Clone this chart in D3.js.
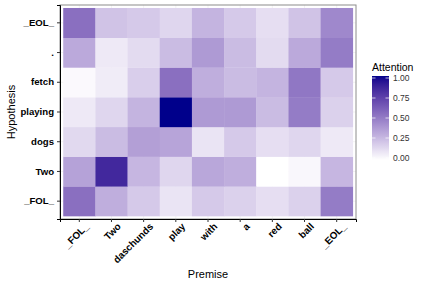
<!DOCTYPE html>
<html>
<head>
<meta charset="utf-8">
<script src="https://cdn.jsdelivr.net/npm/d3@7"></script>
<style>
  body { margin: 0; background: #fff; }
  text { font-family: "Liberation Sans", Arial, sans-serif; }
</style>
</head>
<body>
<svg id="heat" width="427" height="285"></svg>
<script>
// premise words (x) and hypothesis words (y, bottom to top)
var premise = ["_FOL_", "Two", "daschunds", "play", "with", "a", "red", "ball", "_EOL_"]
var hypothesis = ["_FOL_", "Two", "dogs", "playing", "fetch", ".", "_EOL_"]

// attention values, one array per hypothesis word, in premise order
var attEOL     = [0.55, 0.22, 0.20, 0.15, 0.28, 0.20, 0.12, 0.22, 0.45]
var attDot     = [0.32, 0.08, 0.13, 0.25, 0.38, 0.25, 0.13, 0.32, 0.50]
var attFetch   = [0.02, 0.07, 0.18, 0.55, 0.30, 0.25, 0.28, 0.52, 0.20]
var attPlaying = [0.08, 0.15, 0.28, 1.00, 0.38, 0.38, 0.25, 0.50, 0.17]
var attDogs    = [0.14, 0.25, 0.36, 0.34, 0.10, 0.20, 0.12, 0.15, 0.08]
var attTwo     = [0.35, 0.85, 0.27, 0.15, 0.33, 0.30, 0.00, 0.03, 0.27]
var attFOL     = [0.55, 0.30, 0.20, 0.10, 0.20, 0.17, 0.12, 0.17, 0.50]

var legendTicks = [0, 0.25, 0.5, 0.75, 1]

var rows = {
  "_EOL_": attEOL, ".": attDot, "fetch": attFetch, "playing": attPlaying,
  "dogs": attDogs, "Two": attTwo, "_FOL_": attFOL
}
var cells = []
hypothesis.forEach(function(h) {
  rows[h].forEach(function(v, i) {
    cells.push({ x: premise[i], y: h, value: v })
  })
})

var panel = { left: 60, right: 356, top: 5, bottom: 219 }
var svg = d3.select("#heat")

// discrete scales with ggplot style padding
var x = d3.scaleBand()
  .domain(premise)
  .range([panel.left, panel.right])
  .paddingOuter(0.1)
var y = d3.scaleBand()
  .domain(hypothesis)
  .range([panel.bottom, panel.top])
  .paddingOuter(0.1)

var color = d3.scaleLinear()
  .domain([0, 1])
  .range(["white", "darkblue"])
  .interpolate(d3.interpolateLab)

// grid lines
svg.append("g").selectAll("line.gx")
  .data(premise)
  .join("line")
  .attr("x1", d => x(d) + x.bandwidth() / 2)
  .attr("x2", d => x(d) + x.bandwidth() / 2)
  .attr("y1", panel.top)
  .attr("y2", panel.bottom)
  .attr("stroke", "#ebebeb")
  .attr("stroke-width", 0.6)
svg.append("g").selectAll("line.gy")
  .data(hypothesis)
  .join("line")
  .attr("y1", d => y(d) + y.bandwidth() / 2)
  .attr("y2", d => y(d) + y.bandwidth() / 2)
  .attr("x1", panel.left)
  .attr("x2", panel.right)
  .attr("stroke", "#ebebeb")
  .attr("stroke-width", 0.6)

// tiles
svg.append("g")
  .selectAll("rect")
  .data(cells)
  .join("rect")
  .attr("x", d => x(d.x))
  .attr("y", d => y(d.y))
  .attr("width", x.bandwidth() + 0.3)
  .attr("height", y.bandwidth() + 0.3)
  .attr("fill", d => color(d.value))

// panel border
svg.append("rect")
  .attr("x", panel.left)
  .attr("y", panel.top)
  .attr("width", panel.right - panel.left)
  .attr("height", panel.bottom - panel.top)
  .attr("fill", "none")
  .attr("stroke", "#8c8c8c")
  .attr("stroke-width", 1)

// axes
var xAxis = svg.append("g")
  .attr("transform", "translate(0," + panel.bottom + ")")
  .call(d3.axisBottom(x).tickSize(3).tickPadding(3))
xAxis.select(".domain").attr("stroke", "black").attr("stroke-width", 1)
xAxis.selectAll(".tick line").attr("stroke", "#333")
xAxis.selectAll("text")
  .attr("font-size", 9.8)
  .attr("font-weight", "bold")
  .attr("fill", "black")
  .attr("text-anchor", "end")
  .attr("dy", "0.7em")
  .attr("transform", "translate(1,-1) rotate(-45)")

var yAxis = svg.append("g")
  .attr("transform", "translate(" + panel.left + ",0)")
  .call(d3.axisLeft(y).tickSize(3).tickPadding(3))
yAxis.select(".domain").attr("stroke", "black").attr("stroke-width", 1)
yAxis.selectAll(".tick line").attr("stroke", "#333")
yAxis.selectAll("text")
  .attr("font-size", 9.6)
  .attr("font-weight", "bold")
  .attr("fill", "black")

// axis titles
svg.append("text")
  .attr("x", (panel.left + panel.right) / 2)
  .attr("y", 278)
  .attr("text-anchor", "middle")
  .attr("font-size", 11)
  .text("Premise")
svg.append("text")
  .attr("transform", "translate(15," + (panel.top + panel.bottom) / 2 + ") rotate(-90)")
  .attr("text-anchor", "middle")
  .attr("font-size", 11)
  .text("Hypothesis")

// legend colorbar
var bar = { x: 372, top: 76, bottom: 160, width: 17 }
var defs = svg.append("defs")
var grad = defs.append("linearGradient")
  .attr("id", "attgrad")
  .attr("x1", 0).attr("y1", 1).attr("x2", 0).attr("y2", 0)
d3.range(0, 1.001, 0.05).forEach(function(t) {
  grad.append("stop").attr("offset", t).attr("stop-color", color(t))
})
var ly = d3.scaleLinear().domain([0, 1]).range([bar.bottom - 2, bar.top + 2])

svg.append("rect")
  .attr("x", bar.x)
  .attr("y", bar.top)
  .attr("width", bar.width)
  .attr("height", bar.bottom - bar.top)
  .attr("fill", "url(#attgrad)")

var lt = svg.append("g").selectAll("g")
  .data(legendTicks)
  .join("g")
lt.append("line")
  .attr("x1", bar.x).attr("x2", bar.x + 3.5)
  .attr("y1", d => ly(d)).attr("y2", d => ly(d))
  .attr("stroke", "white").attr("stroke-width", 0.7)
lt.append("line")
  .attr("x1", bar.x + bar.width - 3.5).attr("x2", bar.x + bar.width)
  .attr("y1", d => ly(d)).attr("y2", d => ly(d))
  .attr("stroke", "white").attr("stroke-width", 0.7)
lt.append("text")
  .attr("x", bar.x + bar.width + 4)
  .attr("y", d => ly(d))
  .attr("dy", "0.35em")
  .attr("font-size", 8.5)
  .attr("fill", "#333")
  .text(d => d3.format(".2f")(d))

svg.append("text")
  .attr("x", bar.x)
  .attr("y", 71)
  .attr("font-size", 10.5)
  .text("Attention")
</script>
</body>
</html>
